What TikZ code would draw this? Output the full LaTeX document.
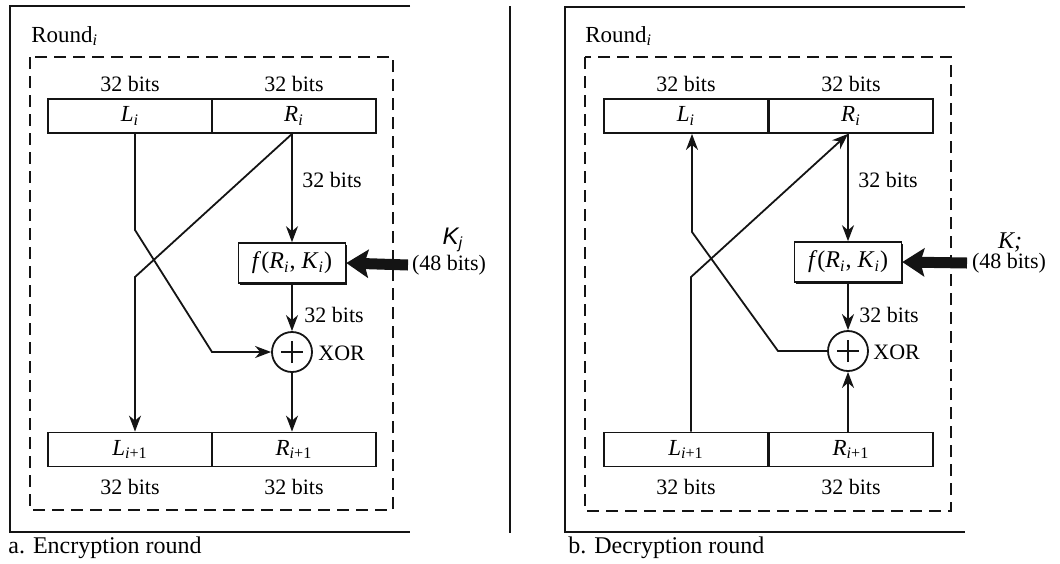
\documentclass[tikz,border=0pt]{standalone}
\usepackage{fontspec}
\setmainfont{Liberation Serif}
\newfontfamily\keyfont{Liberation Sans}
\usetikzlibrary{arrows.meta,positioning,shadows}
\definecolor{ink}{HTML}{141414}

\begin{document}
\begin{tikzpicture}[x=0.5pt,y=-0.5pt,
    lbl/.style={font=\fontsize{11}{13}\selectfont, inner sep=1pt},
    reg/.style={draw=ink, line width=0.9pt, minimum width=82pt, minimum height=17pt, inner sep=0pt, font=\fontsize{11.5}{13}\selectfont},
    fnbox/.style={draw=ink, fill=white, line width=0.8pt, minimum width=53.5pt, minimum height=20pt, inner sep=0pt, font=\fontsize{12}{14}\selectfont,
      drop shadow={shadow xshift=0.8pt, shadow yshift=-0.8pt, fill=ink, opacity=1}},
    xorc/.style={draw=ink, circle, line width=0.9pt, minimum size=20pt, inner sep=0pt},
    wire/.style={draw=ink, line width=0.9pt},
    flow/.style={wire, -{Stealth[length=8pt,width=6pt,inset=2.5pt]}},
    keyin/.style={draw=ink, line width=5.5pt, -{Stealth[length=11pt,width=14pt,inset=2pt]}},
    outer/.style={draw=ink, line width=0.9pt},
    roundbox/.style={draw=ink, line width=0.8pt, dash pattern=on 6pt off 3.5pt}]
  \useasboundingbox (0,0) rectangle (1060,563);

  % a. encryption
  \draw[outer] (410,6) -- (10,6) -- (10,532) -- (410,532);
  \draw[ink, line width=0.6pt] (510,6) -- (510,533);
  \draw[roundbox] (30,57) rectangle (393,510);
  \node[lbl, anchor=base west, font=\fontsize{11.5}{13}\selectfont] (rda) at (29,42) {Round\textsubscript{\textit{i}}};

  \node[reg] (lia) at (130,116) {\textit{L}\textsubscript{\textit{i}}};
  \node[reg] (ria) at (294,116) {\textit{R}\textsubscript{\textit{i}}};
  \node[reg] (loa) at (130,449.5) {\textit{L}\textsubscript{\textit{i}+1}};
  \node[reg] (roa) at (294,449.5) {\textit{R}\textsubscript{\textit{i}+1}};
  \node[lbl, above=2pt of lia] (tla) {32 bits};
  \node[lbl, above=2pt of ria] (tra) {32 bits};
  \node[lbl, below=4.5pt of loa] (bla) {32 bits};
  \node[lbl, below=4.5pt of roa] (bra) {32 bits};

  \node[fnbox] (fa) at (292,263) {\textit{f}(\textit{R}\textsubscript{\textit{i}}, \textit{K}\textsubscript{\textit{i}})};
  \node[xorc] (xa) at (292,352) {};
  \draw[wire] ([xshift=-5.5pt]xa.center) -- ([xshift=5.5pt]xa.center)
    ([yshift=-5.5pt]xa.center) -- ([yshift=5.5pt]xa.center);
  \node[lbl, anchor=west] (xla) at (316,353) {XOR};
  \node[lbl, anchor=west] (w1a) at (300,180) {32 bits};
  \node[lbl, anchor=west] (w2a) at (302,315) {32 bits};

  \coordinate (ca1) at (135,230);
  \coordinate (ca2) at (212,352);
  \coordinate (ca3) at (135,277);
  \draw[flow] (lia.south -| ca1) -- (ca1) -- (ca2) -- (xa.west);
  \draw[flow] (ria.south -| fa) -- (ca3) -- (ca3 |- loa.north);
  \draw[flow] (ria.south -| fa) -- (fa.north);
  \draw[flow] (fa) -- (xa);
  \draw[flow] (xa) -- (roa.north -| xa);

  \coordinate (ka) at (408,265);
  \draw[keyin] (ka) -- (fa.east);
  \node[inner sep=0pt, font=\fontsize{12}{14}\selectfont\keyfont\itshape] (kna) at (453,240) {K\textsubscript{j}};
  \node[lbl] (kba) at (449,265) {(48 bits)};
  \node[anchor=base west, inner sep=0pt, font=\fontsize{12}{14}\selectfont] (cpa) at (8,553) {a. Encryption round};

  % b. decryption
  \draw[outer] (965,7) -- (565,7) -- (565,532) -- (965,532);
  \draw[roundbox] (585,57) rectangle (951,511);
  \node[lbl, anchor=base west, font=\fontsize{11.5}{13}\selectfont] (rdb) at (583,42) {Round\textsubscript{\textit{i}}};

  \node[reg] (lib) at (686,116) {\textit{L}\textsubscript{\textit{i}}};
  \node[reg] (rib) at (851,116) {\textit{R}\textsubscript{\textit{i}}};
  \node[reg] (lob) at (686,449.5) {\textit{L}\textsubscript{\textit{i}+1}};
  \node[reg] (rob) at (851,449.5) {\textit{R}\textsubscript{\textit{i}+1}};
  \node[lbl, above=2pt of lib] (tlb) {32 bits};
  \node[lbl, above=2pt of rib] (trb) {32 bits};
  \node[lbl, below=4.5pt of lob] (blb) {32 bits};
  \node[lbl, below=4.5pt of rob] (brb) {32 bits};

  \node[fnbox] (fb) at (848,262) {\textit{f}(\textit{R}\textsubscript{\textit{i}}, \textit{K}\textsubscript{\textit{i}})};
  \node[xorc] (xb) at (848,351) {};
  \draw[wire] ([xshift=-5.5pt]xb.center) -- ([xshift=5.5pt]xb.center)
    ([yshift=-5.5pt]xb.center) -- ([yshift=5.5pt]xb.center);
  \node[lbl, anchor=west] (xlb) at (871,352) {XOR};
  \node[lbl, anchor=west] (w1b) at (856,180) {32 bits};
  \node[lbl, anchor=west] (w2b) at (857,315) {32 bits};

  \coordinate (cb1) at (692,232);
  \coordinate (cb2) at (778,351);
  \coordinate (cb3) at (691,277);
  \draw[flow] (xb.west) -- (cb2) -- (cb1) -- (cb1 |- lib.south);
  \draw[flow] (lob.north -| cb3) -- (cb3) -- (rib.south -| xb);
  \draw[flow] (rib.south -| xb) -- (fb.north);
  \draw[flow] (fb) -- (xb);
  \draw[flow] (rob.north -| xb) -- (xb);

  \coordinate (kb) at (967,263);
  \draw[keyin] (kb) -- (fb.east);
  \node[inner sep=0pt, font=\fontsize{12}{14}\selectfont\itshape] (knb) at (1010,242) {K;};
  \node[lbl] (kbb) at (1009,263) {(48 bits)};
  \node[anchor=base west, inner sep=0pt, font=\fontsize{12}{14}\selectfont] (cpb) at (568,553) {b. Decryption round};
\end{tikzpicture}
\end{document}
